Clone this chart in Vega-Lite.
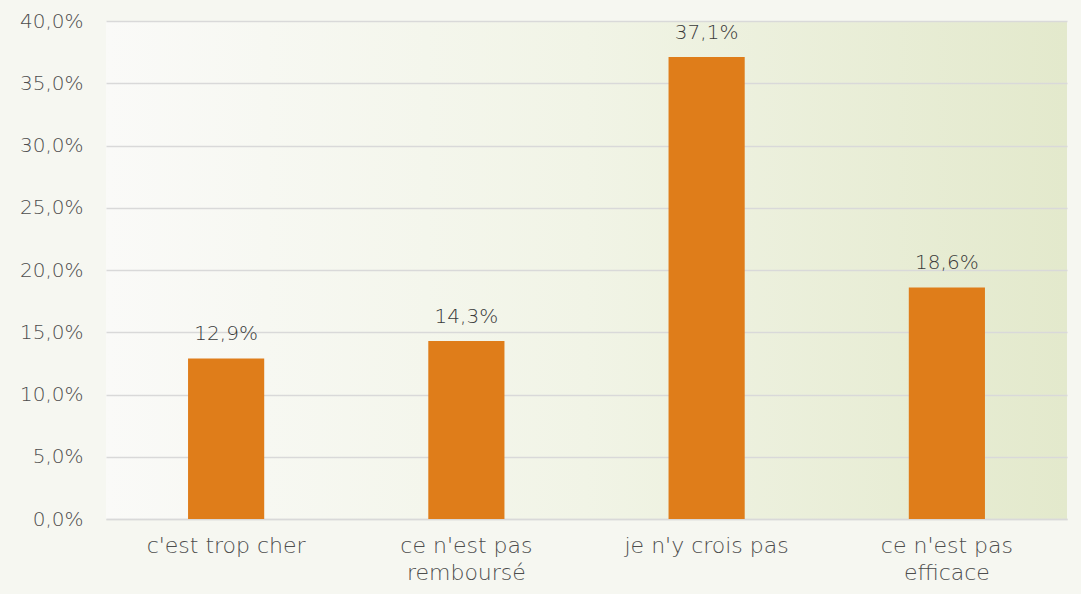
{
  "$schema": "https://vega.github.io/schema/vega-lite/v6.json",
  "width": 961,
  "height": 498,
  "autosize": {"type": "none"},
  "padding": {"left": 106, "top": 21, "right": 14, "bottom": 75},
  "background": "#f6f7f1",
  "config": {
    "locale": {"number": {"decimal": ",", "thousands": " ", "grouping": [3], "currency": ["", " €"]}},
    "view": {"stroke": null, "fill": {"gradient": "linear", "x1": 0, "y1": 0, "x2": 1, "y2": 0, "stops": [{"offset": 0, "color": "#fafaf8"}, {"offset": 0.5, "color": "#f1f4e6"}, {"offset": 1, "color": "#e3e9cc"}]}},
    "font": "DejaVu Sans"
  },
  "data": {"values": [
    {"raison": "c'est trop cher", "part": 0.129},
    {"raison": "ce n'est pas\nremboursé", "part": 0.143},
    {"raison": "je n'y crois pas", "part": 0.371},
    {"raison": "ce n'est pas\nefficace", "part": 0.186}
  ]},
  "encoding": {
    "x": {"field": "raison", "type": "nominal", "sort": null, "title": null,
      "scale": {"paddingInner": 0.683, "paddingOuter": 0.3415},
      "axis": {"labelAngle": 0, "labelExpr": "split(datum.value, '\\n')", "labelFontSize": 22, "labelFontWeight": 200, "labelColor": "#4d4d4d", "labelPadding": 16, "labelLineHeight": 27, "ticks": false, "domainColor": "#d9d9d9", "domainWidth": 1.5}},
    "y": {"field": "part", "type": "quantitative", "title": null,
      "scale": {"domain": [0, 0.4]},
      "axis": {"format": ".1%", "values": [0, 0.05, 0.1, 0.15, 0.2, 0.25, 0.3, 0.35, 0.4], "labelFontSize": 20, "labelFontWeight": 200, "labelColor": "#4d4d4d", "labelPadding": 23, "ticks": false, "domain": false, "gridColor": "#d9d9d9", "gridWidth": 1.5}}
  },
  "layer": [
    {"mark": {"type": "bar", "color": "#df7d1a"}},
    {"mark": {"type": "text", "dy": -14, "baseline": "bottom", "fontSize": 20, "fontWeight": 200, "color": "#3a3a3a"},
     "encoding": {"text": {"field": "part", "type": "quantitative", "format": ".1%"}}}
  ]
}
